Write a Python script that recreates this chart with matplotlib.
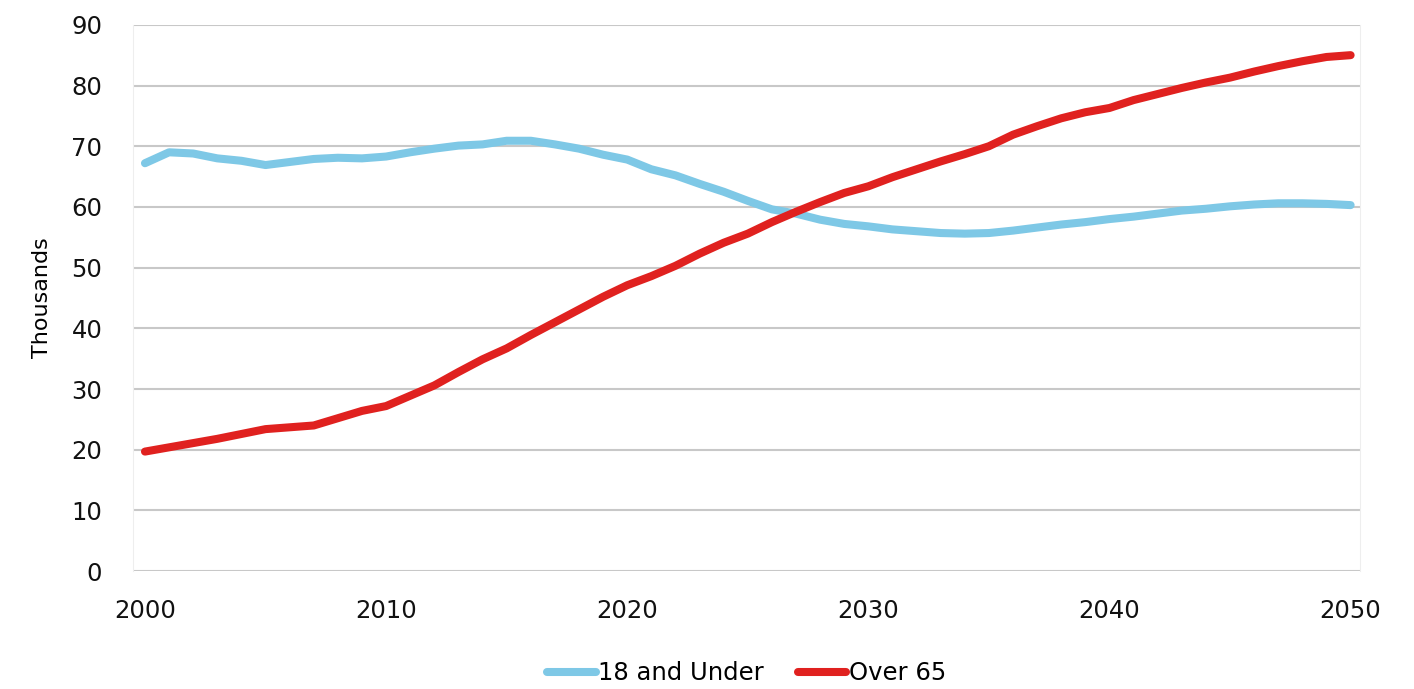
import matplotlib
matplotlib.use("Agg")
import matplotlib.pyplot as plt
import numpy as np

years = list(range(2000, 2051))

under_18 = [67.2, 69.0, 68.8, 68.0, 67.6, 66.9, 67.4, 67.9, 68.1, 68.0,
            68.3, 69.0, 69.6, 70.1, 70.3, 70.9, 70.9, 70.3, 69.6, 68.6,
            67.8, 66.2, 65.2, 63.8, 62.5, 61.0, 59.6, 58.9, 57.9, 57.2,
            56.8, 56.3, 56.0, 55.7, 55.6, 55.7, 56.1, 56.6, 57.1, 57.5,
            58.0, 58.4, 58.9, 59.4, 59.7, 60.1, 60.4, 60.6, 60.6, 60.5,
            60.3]

over_65 = [19.7, 20.4, 21.1, 21.8, 22.6, 23.4, 23.7, 24.0, 25.2, 26.4,
           27.2, 28.9, 30.6, 32.8, 34.9, 36.7, 38.9, 41.0, 43.1, 45.2,
           47.1, 48.6, 50.3, 52.3, 54.1, 55.6, 57.5, 59.2, 60.8, 62.3,
           63.4, 64.9, 66.2, 67.5, 68.7, 70.0, 71.9, 73.3, 74.6, 75.6,
           76.3, 77.6, 78.6, 79.6, 80.5, 81.3, 82.3, 83.2, 84.0, 84.7,
           85.0]

x_ticks = [2000, 2010, 2020, 2030, 2040, 2050]
y_ticks = list(range(0, 100, 10))

plt.rcParams['font.family'] = ['DejaVu Sans']

fig = plt.figure(figsize=(14.14, 6.89), dpi=100)
ax = fig.add_axes([0.094, 0.171, 0.868, 0.793])

ax.plot(years, under_18, color='#7EC8E6', linewidth=5.8, solid_capstyle='round',
        label='18 and Under', zorder=3)
ax.plot(years, over_65, color='#E0211F', linewidth=5.8, solid_capstyle='round',
        label='Over 65', zorder=4)

ax.set_ylim(0, 90)
ax.set_xlim(1999.5, 2050.4)
ax.set_yticks(y_ticks)
ax.set_xticks(x_ticks)
ax.grid(axis='y', color='#c8c8c8', linewidth=1.5)
ax.set_axisbelow(True)
for s in ['top', 'bottom']:
    ax.spines[s].set_visible(False)
ax.spines['left'].set_color('#eeeeee')
ax.spines['right'].set_color('#eeeeee')
ax.tick_params(axis='both', length=0, labelsize=17.5, colors='#111111')
ax.tick_params(axis='y', pad=22)
ax.tick_params(axis='x', pad=20)
ax.set_ylabel('Thousands', fontsize=16, labelpad=14)

ax.legend(loc='upper center', bbox_to_anchor=(0.5, -0.125), ncol=2, frameon=False,
          fontsize=17.5, handlelength=2.0, handletextpad=0.1, columnspacing=1.4)

fig.savefig('out.png', dpi=100, facecolor='white')
